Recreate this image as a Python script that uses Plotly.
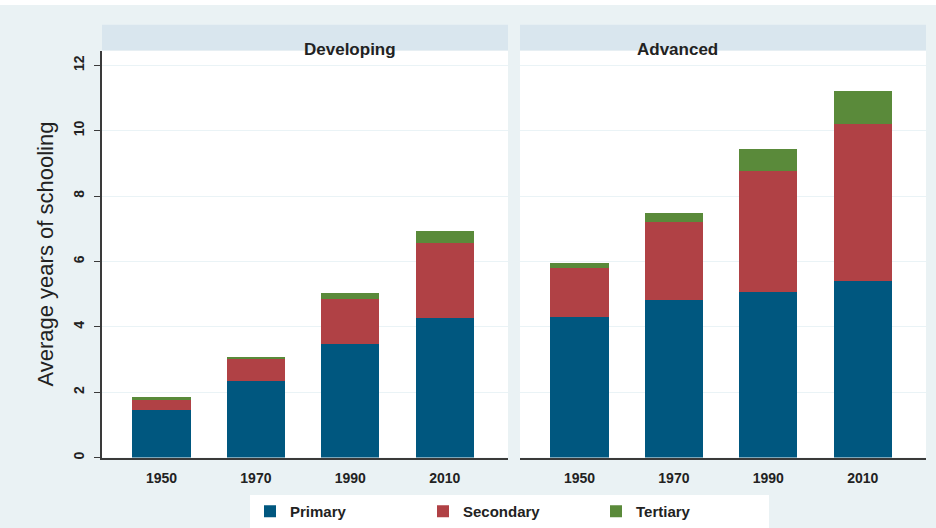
import plotly.graph_objects as go
from plotly.subplots import make_subplots

years = ["1950", "1970", "1990", "2010"]
panels = ["Developing", "Advanced"]
# component values (years of schooling)
dev_primary = [1.45, 2.33, 3.46, 4.27]
dev_secondary = [0.31, 0.68, 1.39, 2.30]
dev_tertiary = [0.08, 0.08, 0.18, 0.36]
adv_primary = [4.31, 4.83, 5.07, 5.39]
adv_secondary = [1.49, 2.37, 3.69, 4.80]
adv_tertiary = [0.16, 0.29, 0.69, 1.02]
series_names = ["Primary", "Secondary", "Tertiary"]
colors = ["#00577f", "#b04145", "#5a8a3a"]
y_ticks = [0, 2, 4, 6, 8, 10, 12]

W, H = 936, 528
fig = make_subplots(rows=1, cols=2, shared_yaxes=True)

data = {
    1: [dev_primary, dev_secondary, dev_tertiary],
    2: [adv_primary, adv_secondary, adv_tertiary],
}
for col in (1, 2):
    for i, name in enumerate(series_names):
        fig.add_trace(go.Bar(x=years, y=data[col][i], name=name,
                             marker=dict(color=colors[i], line=dict(width=0)),
                             showlegend=(col == 1)), row=1, col=col)

def px(x):
    return x / W

def py(y):
    return 1 - y / H

left = [102, 508]
right = [520, 926]
top, bottom = 51, 462
fig.update_layout(
    width=W, height=H, margin=dict(l=0, r=0, t=0, b=0),
    barmode="stack", bargap=0.385,
    paper_bgcolor="#eaf2f4", plot_bgcolor="white",
    font=dict(family="Liberation Sans, Arial", color="#222"),
    legend=dict(orientation="h", x=px(250), y=py(500), xanchor="left", yanchor="top",
                bgcolor="white", font=dict(size=15, color="#222", weight="bold"),
                entrywidth=128, itemwidth=30, traceorder="normal"),
)
fig.layout.xaxis.domain = [px(left[0]), px(left[1])]
fig.layout.xaxis2.domain = [px(right[0]), px(right[1])]
fig.layout.yaxis.domain = [py(bottom), py(top)]
fig.layout.yaxis2.domain = [py(bottom), py(top)]

for ax in ("xaxis", "xaxis2"):
    fig.layout[ax].update(range=[-0.63, 3.67], showline=True, linecolor="#3a3a3a",
                          linewidth=2, ticks="", tickfont=dict(size=14, weight="bold"),
                          ticklabelstandoff=7, showgrid=False, zeroline=False)
fig.update_yaxes(range=[0, 12.45], tickvals=y_ticks, gridcolor="#eaf3f6", gridwidth=1,
                 zeroline=False, tickfont=dict(size=14, weight="bold"))
fig.layout.yaxis.update(showline=True, linecolor="#3a3a3a", linewidth=2, ticks="outside",
                        ticklen=6, tickcolor="#3a3a3a", tickangle=-90, ticklabelstandoff=4,
                        title=dict(text="Average years of schooling", font=dict(size=22),
                                   standoff=12))
fig.layout.yaxis2.update(showline=False, ticks="", showticklabels=False)

# top white band
fig.add_shape(type="rect", xref="paper", yref="paper", x0=0, x1=1, y0=py(5), y1=1,
              fillcolor="white", line=dict(width=0), layer="below")
# strip headers
for (x0, x1), title in zip([left, right], panels):
    fig.add_shape(type="rect", xref="paper", yref="paper", x0=px(x0), x1=px(x1),
                  y0=py(top), y1=py(25), fillcolor="#d9e6ee", line=dict(width=0))
    fig.add_annotation(x=px((x0 + x1) / 2 - 3), y=py(38), xref="paper", yref="paper",
                       text=title, showarrow=False,
                       font=dict(size=17, color="#222", weight="bold"))

fig.write_html("out.html", config={"displayModeBar": False},
               post_script="document.body.style.margin='0';document.body.style.padding='0';")
